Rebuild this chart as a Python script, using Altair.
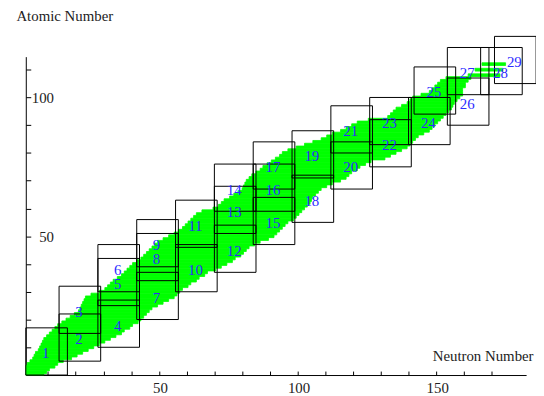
import altair as alt
import pandas as pd

# ---- green band of nuclides: one row per atomic number Z, neutron extent ----
Z_ROWS = list(range(0, 108))
N_LEFT = [2, 2, 2, 2.5, 3, 4, 5, 5.5, 6, 7, 7.5, 8, 8.5, 9, 10, 11, 12, 13, 14, 15.5,
          17, 18.5, 20, 21.5, 22, 22.5, 23, 23.5, 24, 26, 29, 31, 32, 33, 34, 35.5, 37, 38, 39, 40,
          41, 42.5, 44, 45, 46, 47, 48, 49, 50, 52, 54, 56, 57.5, 59, 60, 61, 62, 63, 64, 66,
          70, 72, 73, 74, 76, 77.5, 79, 80.5, 81, 81.5, 82, 83, 84, 85.5, 87, 88, 89.5, 91, 92.5, 94,
          95, 97, 100, 103, 106, 109, 111, 113, 116, 118, 120, 122, 126, 133, 134, 135, 136, 138, 140, 141,
          142, 145, 148, 149, 150, 151, 152, 154]
N_RIGHT = [8, 9, 10, 12, 13, 15, 18, 20, 22, 24, 26, 28, 30, 32, 34, 36, 37, 39, 40, 42,
           43, 44, 45, 46, 47, 49, 51, 53, 55, 56, 57, 58, 60, 61, 63, 64, 66, 67, 70, 72,
           74, 76, 77, 79, 80, 81, 82, 84, 86, 89, 91, 92, 93, 94, 95, 96, 98, 99, 100, 101,
           102, 103, 104, 104.5, 105, 106, 107, 108, 110, 112, 115, 117, 118, 119, 121, 122, 124, 126, 131, 133,
           135, 137, 139, 140, 141, 142, 143, 145, 147, 148, 149, 150, 151, 152, 153, 154, 155, 155.5, 156, 157,
           158, 159, 159, 159, 160, 160, 161, 162]
# isolated heavy strips
TOP_Z = [108, 110, 112]
TOP_N0 = [162, 164.5, 167]
TOP_N1 = [172.5, 173.5, 174.5]

# ---- numbered boxes ----
BOX_ID = list(range(1, 30))
BOX_N0 = [2, 14, 14, 28, 28, 28, 42, 42, 42, 56, 56, 70, 70, 70, 84, 84, 84, 98, 98,
          112, 112, 126, 126, 140, 142, 154, 154, 166, 171]
BOX_N1 = [17, 29, 29, 43, 43, 43, 57, 57, 57, 71, 71, 85, 85, 85, 99, 99, 99, 113, 113,
          127, 127, 141, 141, 155, 157, 169, 169, 181, 186]
BOX_Z0 = [0, 5, 15, 10, 25, 30, 20, 34, 39, 30, 46, 37, 51, 59, 47, 59, 67, 55, 71,
          67, 80, 75, 83, 83, 94, 90, 101, 101, 105]
BOX_Z1 = [17, 22, 32, 27, 42, 47, 37, 51, 56, 47, 63, 54, 68, 76, 64, 76, 84, 72, 88,
          84, 97, 92, 100, 100, 111, 107, 118, 118, 122]

X_TICKS = list(range(10, 180, 10))
Y_TICKS = list(range(10, 120, 10))
X_LABELS = [50, 100, 150]

band = pd.DataFrame({
    "n0": [a - 0.5 if a > 2 else 2 for a in N_LEFT] + [a - 0.5 for a in TOP_N0],
    "n1": [b + 0.5 for b in N_RIGHT] + [b + 0.5 for b in TOP_N1],
    "z0": [max(z - 0.5, 0) for z in Z_ROWS] + [z - 0.5 for z in TOP_Z],
    "z1": [z + 0.5 for z in Z_ROWS] + [z + 0.5 for z in TOP_Z],
})
boxes = pd.DataFrame({"id": BOX_ID, "n0": BOX_N0, "n1": BOX_N1, "z0": BOX_Z0, "z1": BOX_Z1})
boxes["nc"] = (boxes["n0"] + boxes["n1"]) / 2
boxes["zc"] = (boxes["z0"] + boxes["z1"]) / 2
boxes["label"] = boxes["id"].astype(str)

W, H = 506, 322
xs = alt.Scale(domain=[2, 182.4], nice=False, zero=False)
ys = alt.Scale(domain=[0, 114.7], nice=False, zero=False)
FONT = "Liberation Serif"

green = alt.Chart(band).mark_rect(color="#00ff00", stroke="#00ff00", strokeWidth=0.8).encode(
    x=alt.X("n0:Q", scale=xs, axis=alt.Axis(
        orient="bottom", values=X_LABELS, ticks=False, domain=False, grid=False,
        labelFont=FONT, labelFontSize=15, labelColor="#222", labelPadding=6, labelOffset=1,
        title="Neutron Number", titleFont=FONT, titleFontSize=15, titleFontWeight="normal",
        titleColor="#222", titleX=411, titleY=-15, titleAlign="left",
        titleBaseline="alphabetic", titleAngle=0)),
    x2="n1",
    y=alt.Y("z0:Q", scale=ys, axis=alt.Axis(
        orient="right", offset=-W, values=Y_TICKS, tickSize=5, tickColor="#000",
        domainColor="#000", grid=False,
        labelExpr="datum.value % 50 === 0 ? datum.label : ''",
        labelAlign="right", labelPadding=23, labelBaseline="middle",
        labelFont=FONT, labelFontSize=15, labelColor="#222",
        title="Atomic Number", titleFont=FONT, titleFontSize=15, titleFontWeight="normal",
        titleColor="#222", titleAngle=0, titleX=-10, titleY=-37, titleAlign="left",
        titleBaseline="alphabetic")),
    y2="z1",
)

frames = alt.Chart(boxes).mark_rect(fillOpacity=0, stroke="#000", strokeWidth=1).encode(
    x=alt.X("n0:Q", scale=xs, axis=alt.Axis(
        orient="top", offset=-H, values=X_TICKS, labels=False, tickSize=4,
        tickColor="#000", domainColor="#000", grid=False, title=None)),
    x2="n1",
    y=alt.Y("z0:Q", scale=ys, axis=None),
    y2="z1",
)

labels = alt.Chart(boxes).mark_text(
    font=FONT, fontSize=15, color="#2b2bff", baseline="middle", align="center", dy=2, dx=-1
).encode(
    x=alt.X("nc:Q", scale=xs, axis=None),
    y=alt.Y("zc:Q", scale=ys, axis=None),
    text="label:N",
)

chart = alt.layer(green, frames, labels).resolve_axis(
    x="independent", y="independent"
).properties(
    width=W, height=H,
    autosize=alt.AutoSizeParams(type="none"),
    padding={"left": 18, "top": 47, "right": 10, "bottom": 19},
).configure_view(strokeWidth=0)

chart.save("out.html", embed_options={"renderer": "svg", "actions": False})
